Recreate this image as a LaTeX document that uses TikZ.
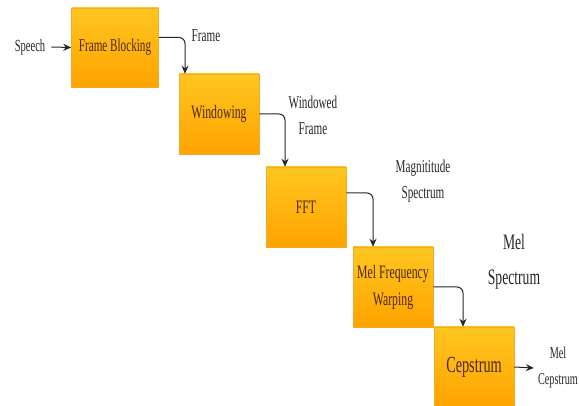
\documentclass[tikz,border=0pt]{standalone}
\usepackage{fontspec}
\setmainfont[FakeStretch=0.62]{Liberation Serif}
\usetikzlibrary{arrows.meta}

\definecolor{boxtop}{RGB}{255,198,32}
\definecolor{boxbot}{RGB}{255,163,0}
\definecolor{boxline}{RGB}{238,172,40}
\definecolor{boxtext}{RGB}{78,38,8}
\definecolor{wire}{RGB}{40,40,40}

\tikzset{
  stagebox/.style={rectangle, top color=boxtop, bottom color=boxbot, draw=boxline,
    line width=0.5pt, minimum width=80pt, minimum height=80pt, inner sep=1pt,
    align=center, text=boxtext, font=\fontsize{19}{27}\selectfont},
  flow/.style={draw=wire, line width=1pt, rounded corners=6pt,
    -{Stealth[length=8pt,width=7pt]}},
  lbl/.style={align=center, inner sep=0pt, text=black!85,
    font=\fontsize{18}{26}\selectfont}
}

\begin{document}
\begin{tikzpicture}[x=1pt,y=-1pt]
\useasboundingbox (0,0) rectangle (579,406);

% stages
\node[stagebox, minimum width=87pt, minimum height=79pt,
  font=\fontsize{18}{24}\selectfont] (block) at (115,47.5) {Frame Blocking};
\node[stagebox] (win) at (219,114) {Windowing};
\node[stagebox] (fft) at (306,207) {FFT};
\node[stagebox] (mel) at (393,287) {Mel Frequency\\Warping};
\node[stagebox, font=\fontsize{23}{27}\selectfont] (cep) at (474,367) {Cepstrum};

% labels
\node[lbl, font=\fontsize{17}{20}\selectfont] (speech) at (30,47) {Speech};
\node[lbl] (lframe) at (206,36) {Frame};
\node[lbl] (lwin) at (313,115) {Windowed\\Frame};
\node[lbl] (lmag) at (423,181) {Magnititude\\Spectrum};
\node[lbl, font=\fontsize{22}{35}\selectfont] (lmel) at (514,262) {Mel\\Spectrum};
\node[lbl, font=\fontsize{16.5}{26}\selectfont] (lcep) at (558,368) {Mel\\Cepstrum};

% connectors
\draw[flow] ([xshift=6pt]speech.east) -- (block.west);
\draw[flow] ([yshift=10pt]block.east) -| ([xshift=-34pt]win.north);
\draw[flow] (win.east) -| ([xshift=-21pt]fft.north);
\draw[flow] ([yshift=14pt]fft.east) -| ([xshift=-20pt]mel.north);
\draw[flow] (mel.east) -| ([xshift=-11pt]cep.north);
\draw[flow] (cep.east) -- ([xshift=-4pt]lcep.west);
\end{tikzpicture}
\end{document}
